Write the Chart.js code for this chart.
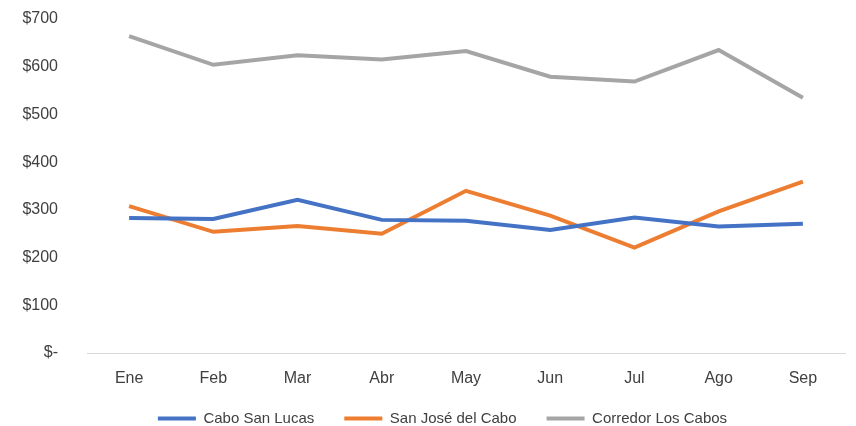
<!DOCTYPE html>
<html>
<head>
<meta charset="utf-8">
<script src="https://cdn.jsdelivr.net/npm/chart.js@4"></script>
<style>
  html, body { margin: 0; padding: 0; background: #fff; }
  #wrap { width: 856px; height: 426px; }
</style>
</head>
<body>
<div id="wrap"><canvas id="chart" width="856" height="426"></canvas></div>
<script>
const months = ['Ene', 'Feb', 'Mar', 'Abr', 'May', 'Jun', 'Jul', 'Ago', 'Sep'];
const caboSanLucas = [283, 281, 321, 279, 277, 258, 284, 265, 271];
const sanJoseDelCabo = [308, 254, 266, 250, 340, 288, 221, 297, 359];
const corredorLosCabos = [664, 604, 624, 615, 633, 579, 569, 635, 535];
const yTicks = [0, 100, 200, 300, 400, 500, 600, 700];

const font = "'Liberation Sans', Arial, sans-serif";

function line(label, data, color) {
    return {
        label: label,
        data: data,
        borderColor: color,
        backgroundColor: color,
        borderWidth: 4,
        pointRadius: 0,
        tension: 0,
        fill: false
    };
}

// wide gaps between legend items, but the legend sits close under the axis labels
const legendFix = {
    id: 'legendFix',
    afterInit(chart) {
        const lg = chart.legend;
        const fit = lg.fit.bind(lg);
        lg.fit = function () { fit(); this.height = 31; };
    },
    afterLayout(chart) {
        const lg = chart.legend;
        lg.top = 381;
        lg.bottom = chart.height;
        lg.height = lg.bottom - lg.top;
        lg.left += 20;
        lg.right += 20;
    }
};

new Chart(document.getElementById('chart').getContext('2d'), {
    type: 'line',
    data: {
        labels: months,
        datasets: [
            line('Cabo San Lucas', caboSanLucas, '#4472C4'),
            line('San José del Cabo', sanJoseDelCabo, '#ED7D31'),
            line('Corredor Los Cabos', corredorLosCabos, '#A5A5A5')
        ]
    },
    plugins: [legendFix],
    options: {
        responsive: false,
        animation: false,
        layout: { padding: { top: 19, right: 11, left: 0, bottom: 2 } },
        plugins: {
            tooltip: { enabled: false },
            legend: {
                position: 'bottom',
                labels: {
                    usePointStyle: true,
                    pointStyle: 'line',
                    pointStyleWidth: 38,
                    padding: 30,
                    color: '#404040',
                    font: { family: font, size: 15 }
                }
            }
        },
        scales: {
            x: {
                offset: true,
                grid: { display: false },
                border: { display: true, color: '#D9D9D9', width: 1 },
                ticks: { color: '#404040', padding: 8, font: { family: font, size: 16 } },
                afterFit: s => { s.height = 40; }
            },
            y: {
                min: 0,
                max: 700,
                grid: { display: false },
                border: { display: false },
                afterBuildTicks: s => { s.ticks = yTicks.map(v => ({ value: v })); },
                afterFit: s => { s.width = 87; s.paddingTop = 0; s.paddingBottom = 0; },
                ticks: {
                    color: '#404040',
                    padding: 21,
                    font: { family: font, size: 16 },
                    callback: v => v === 0 ? '$-' : '$' + v
                }
            }
        }
    }
});
</script>
</body>
</html>
